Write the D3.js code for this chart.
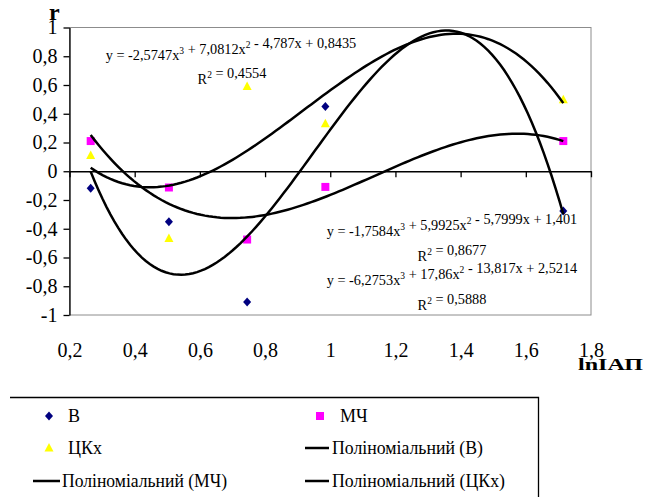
<!DOCTYPE html>
<html>
<head>
<meta charset="utf-8">
<script src="https://cdn.jsdelivr.net/npm/d3@7"></script>
<style>
  body { margin: 0; background: #fff; }
  svg { display: block; }
  text { fill: #000; }
</style>
</head>
<body>
<svg id="chart"></svg>
<script>
// Data
const xValues = [0.265, 0.505, 0.745, 0.985, 1.715];
const valuesB = [-0.118, -0.352, -0.91, 0.45, -0.276];
const valuesMCh = [0.21, -0.113, -0.475, -0.109, 0.21];
const valuesTsKx = [0.11, -0.467, 0.59, 0.33, 0.498];

// Trendline coefficients as printed on the chart (c0, c1, c2, c3)
const trendB = [2.5214, -13.817, 17.86, -6.2753];
const trendMCh = [1.401, -5.7999, 5.9925, -1.7584];
const trendTsKx = [0.8435, -4.787, 7.0812, -2.5747];

const xTicks = [0.2, 0.4, 0.6, 0.8, 1, 1.2, 1.4, 1.6, 1.8];
const yTicks = [-1, -0.8, -0.6, -0.4, -0.2, 0, 0.2, 0.4, 0.6, 0.8, 1];

const W = 656, H = 497;
const SERIF = '"Liberation Serif", "Times New Roman", serif';
const svg = d3.select("#chart").attr("width", W).attr("height", H);

// Scales
const x = d3.scaleLinear().domain([0.2, 1.8]).range([69.5, 591]);
const y = d3.scaleLinear().domain([-1, 1]).range([315, 27.5]);

const fmt = (v) => String(Math.round(v * 10) / 10).replace(".", ",");

// Plot border
svg.append("rect")
  .attr("x", x(0.2)).attr("y", y(1))
  .attr("width", x(1.8) - x(0.2)).attr("height", y(-1) - y(1))
  .attr("fill", "none").attr("stroke", "#8c8c8c").attr("stroke-width", 1);

// Y axis
const yAxis = svg.append("g")
  .attr("transform", `translate(${x(0.2)},0)`)
  .call(d3.axisLeft(y).tickValues(yTicks).tickSize(6).tickSizeOuter(0).tickFormat(fmt));
yAxis.attr("font-family", SERIF).attr("font-size", 20);
yAxis.selectAll("text").attr("x", -12);

// X axis at zero
const xAxis = svg.append("g")
  .attr("transform", `translate(0,${y(0)})`)
  .call(d3.axisBottom(x).tickValues(xTicks).tickSize(6).tickSizeOuter(0).tickFormat(fmt));
xAxis.attr("font-family", SERIF).attr("font-size", 20);
xAxis.selectAll("text").attr("y", 357 - y(0)).attr("dy", 0);

svg.selectAll(".domain").attr("stroke", "#000").attr("stroke-width", 1.3);
svg.selectAll(".tick line").attr("stroke", "#000").attr("stroke-width", 1.3);

// Axis titles
svg.append("text").attr("x", 49).attr("y", 20)
  .attr("font-size", 24).attr("font-weight", "bold").text("r");
svg.append("text").attr("x", 578).attr("y", 370)
  .attr("font-size", 17).attr("font-weight", "bold")
  .attr("textLength", 65).attr("lengthAdjust", "spacingAndGlyphs")
  .text("lnІАП");

// Markers
const diamond = "M0,-4.5L4,0L0,4.5L-4,0Z";
const square = "M-4,-4H4V4H-4Z";
const triangle = "M0,-5L4.5,3.5H-4.5Z";

function drawMarkers(values, path, color) {
  svg.append("g").selectAll("path")
    .data(values)
    .enter()
    .append("path")
    .attr("d", path)
    .attr("fill", color)
    .attr("transform", (d, i) => `translate(${x(xValues[i])},${y(d)})`);
}
drawMarkers(valuesB, diamond, "#000080");
drawMarkers(valuesMCh, square, "#ff00ff");
drawMarkers(valuesTsKx, triangle, "#ffff00");

// Trendlines
const poly = (c) => (t) => c[0] + c[1] * t + c[2] * t * t + c[3] * t * t * t;
const xMin = d3.min(xValues), xMax = d3.max(xValues);
const samples = d3.range(0, 121).map((i) => xMin + (xMax - xMin) * i / 120);
const line = d3.line().x((d) => x(d[0])).y((d) => y(d[1]));
[trendB, trendMCh, trendTsKx].forEach((c) => {
  const f = poly(c);
  svg.append("path")
    .attr("d", line(samples.map((t) => [t, f(t)])))
    .attr("fill", "none").attr("stroke", "#000").attr("stroke-width", 2.5);
});

// Equation labels
function equation(cx, baseline, parts) {
  const t = svg.append("text").attr("x", cx).attr("y", baseline)
    .attr("font-size", 14.3).attr("text-anchor", "middle");
  parts.forEach((p) => {
    if (typeof p === "object") {
      t.append("tspan").attr("font-size", 9.5).attr("dy", -6).text(p.up);
      t.append("tspan").attr("dy", 6).text("");
    } else {
      t.append("tspan").text(p);
    }
  });
}
equation(231, 60, ["y = -2,5747x", { up: "3" }, " + 7,0812x", { up: "2" }, " - 4,787x + 0,8435"]);
equation(232, 84, ["R", { up: "2" }, " = 0,4554"]);
equation(452, 236, ["y = -1,7584x", { up: "3" }, " + 5,9925x", { up: "2" }, " - 5,7999x + 1,401"]);
equation(452, 261, ["R", { up: "2" }, " = 0,8677"]);
equation(452, 285, ["y = -6,2753x", { up: "3" }, " + 17,86x", { up: "2" }, " - 13,817x + 2,5214"]);
equation(452, 310, ["R", { up: "2" }, " = 0,5888"]);

// Legend
svg.append("path").attr("d", "M10,397.5H538.5V497")
  .attr("fill", "none").attr("stroke", "#000").attr("stroke-width", 1.3);

const legendItems = [
  { label: "В", kind: diamond, color: "#000080", mx: 49, tx: 68, ty: 416 },
  { label: "МЧ", kind: square, color: "#ff00ff", mx: 320, tx: 340, ty: 416 },
  { label: "ЦКх", kind: triangle, color: "#ffff00", mx: 49, tx: 68, ty: 448 },
  { label: "Поліноміальний (В)", kind: "line", x0: 305, x1: 329, tx: 332, ty: 448, w: 151 },
  { label: "Поліноміальний (МЧ)", kind: "line", x0: 33, x1: 60, tx: 62, ty: 481, w: 165 },
  { label: "Поліноміальний (ЦКх)", kind: "line", x0: 305, x1: 329, tx: 332, ty: 481, w: 173 },
];
const lg = svg.append("g");
legendItems.forEach((d) => {
  if (d.kind === "line") {
    lg.append("line").attr("x1", d.x0).attr("x2", d.x1).attr("y1", d.ty).attr("y2", d.ty)
      .attr("stroke", "#000").attr("stroke-width", 2.5);
  } else {
    lg.append("path").attr("d", d.kind).attr("fill", d.color)
      .attr("transform", `translate(${d.mx},${d.ty})`);
  }
  const t = lg.append("text").attr("x", d.tx).attr("y", d.ty).attr("dy", "0.35em")
    .attr("font-size", 18).text(d.label);
  if (d.w) t.attr("textLength", d.w).attr("lengthAdjust", "spacingAndGlyphs");
});

// Serif font on every text
svg.selectAll("text").style("font-family", SERIF);
</script>
</body>
</html>
